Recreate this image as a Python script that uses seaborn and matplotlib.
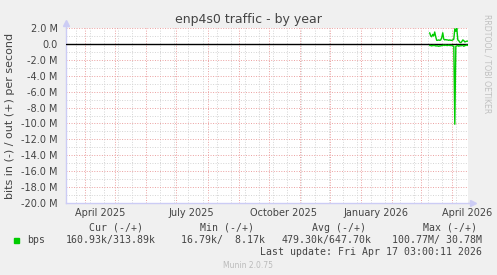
import numpy as np
import pandas as pd
import matplotlib
matplotlib.use("Agg")
import matplotlib.pyplot as plt
import matplotlib.dates as mdates
from matplotlib.ticker import MultipleLocator, FuncFormatter, NullFormatter, FixedLocator
import seaborn as sns

# ---------------- data ----------------
title = "enp4s0 traffic - by year"
ylabel = "bits in (-) / out (+) per second"
series_start = "2026-03-10"
out_mbps = [1.4, 1.0, 0.9, 1.2, 1.0, 1.5, 0.9, 0.45, 0.45, 0.5,
            0.45, 0.5, 0.8, 1.4, 0.6, 0.5, 0.55, 0.5, 0.5, 0.45,
            0.5, 0.45, 0.45, 0.5, 0.6, 1.9, 1.6, 1.95, 0.5, 0.4,
            0.2, 0.15, 0.3, 0.5, 0.4, 0.25, 0.3, 0.35, 0.35]
in_mbps = [0.2, 0.2, 0.25, 0.2, 0.2, 0.2, 0.25, 0.25, 0.25, 0.3,
           0.25, 0.25, 0.2, 0.2, 0.15, 0.2, 0.15, 0.2, 0.2, 0.15,
           0.2, 0.2, 0.2, 0.25, 0.3, 10.1, 0.3, 0.25, 0.2, 0.3,
           0.2, 0.25, 0.2, 0.2, 0.3, 0.2, 0.2, 0.15, 0.2]
x_end = "2026-04-17 03:00:11"
span_days = 400
x_labels = ["April 2025", "July 2025", "October 2025", "January 2026", "April 2026"]
x_label_dates = ["2025-04-16", "2025-07-16", "2025-10-16", "2026-01-16", "2026-04-16"]
minor_grid_start = "2025-03-23"
legend_name = "bps"
legend_heads = ["Cur (-/+)", "Min (-/+)", "Avg (-/+)", "Max (-/+)"]
legend_vals = ["160.93k/313.89k", "16.79k/  8.17k", "479.30k/647.70k", "100.77M/ 30.78M"]
last_update = "Last update: Fri Apr 17 03:00:11 2026"
footer = "Munin 2.0.75"
side_text = "RRDTOOL / TOBI OETIKER"

# ---------------- style ----------------
sns.set_style("white")
plt.rcParams['font.family'] = ['DejaVu Sans']
GREEN = "#00CC00"
BG = "#F0F0F0"
TXT = "#444444"

W, H = 497, 275
fig = plt.figure(figsize=(W / 100, H / 100), dpi=100, facecolor=BG)
L, R, T, B = 66, 468, 28, 203
ax = fig.add_axes([L / W, 1 - B / H, (R - L) / W, (B - T) / H])
ax.set_facecolor("white")

dates = pd.date_range(series_start, periods=len(out_mbps), freq="D")
df = pd.DataFrame({
    "date": list(dates) * 2,
    "value": [v * 1e6 for v in out_mbps] + [-v * 1e6 for v in in_mbps],
    "dir": ["out"] * len(out_mbps) + ["in"] * len(in_mbps),
})

end = pd.Timestamp(x_end)
start = end - pd.Timedelta(days=span_days)
ax.set_xlim(start, end)
ax.set_ylim(-20e6, 2e6)

# grid
ax.xaxis.set_major_locator(mdates.MonthLocator(bymonthday=1))
minor_days = pd.date_range(minor_grid_start, end, freq="14D")
ax.xaxis.set_minor_locator(FixedLocator(mdates.date2num(minor_days)))
ax.xaxis.set_major_formatter(NullFormatter())
ax.xaxis.set_minor_formatter(NullFormatter())
ax.yaxis.set_major_locator(MultipleLocator(2e6))
ax.yaxis.set_minor_locator(MultipleLocator(1e6))
ax.yaxis.set_major_formatter(FuncFormatter(lambda v, p: "0.0" if abs(v) < 1 else f"{v/1e6:.1f} M"))

dot = (0, (1, 1.6))
ax.grid(which="minor", color="#D4D4D4", linestyle=dot, linewidth=0.7)
ax.grid(which="major", color="#EBA0A0", linestyle=dot, linewidth=0.7)
ax.set_axisbelow(True)

ax.tick_params(axis="y", which="major", length=2, width=0.7, color="#E0A0A0",
               labelsize=7, labelcolor=TXT, pad=4)
ax.tick_params(axis="y", which="minor", length=0)
ax.tick_params(axis="x", which="major", length=2, width=0.7, color="#E0A0A0")
ax.tick_params(axis="x", which="minor", length=0)

for s in ["top", "right"]:
    ax.spines[s].set_visible(False)
for s in ["left", "bottom"]:
    ax.spines[s].set_color("#CCCCF5")
    ax.spines[s].set_linewidth(1.0)

# zero line
ax.axhline(0, color="black", linewidth=1.0, zorder=3)

sns.lineplot(data=df, x="date", y="value", units="dir", estimator=None,
             color=GREEN, linewidth=1.0, ax=ax, legend=False, zorder=4)
ax.set_xlabel("")
ax.set_ylabel("")

# axis arrows
ax.plot([0, 0], [1.0, 1.03], transform=ax.transAxes, color="#CCCCF5", lw=1.0, clip_on=False)
ax.plot([0], [1.03], marker="^", markersize=5, color="#CCCCF5", transform=ax.transAxes, clip_on=False)
ax.plot([1.0, 1.01], [0, 0], transform=ax.transAxes, color="#CCCCF5", lw=1.0, clip_on=False)
ax.plot([1.012], [0], marker=">", markersize=5, color="#CCCCF5", transform=ax.transAxes, clip_on=False)

# x labels at month centers
for lab, d in zip(x_labels, x_label_dates):
    ax.text(pd.Timestamp(d), -0.03, lab, transform=ax.get_xaxis_transform(),
            ha="center", va="top", fontsize=7, color=TXT)

# texts
def fx(px):
    return px / W
def fy(py):
    return 1 - py / H

fig.text(fx(248), fy(23), title, ha="center", va="baseline", fontsize=9, color=TXT)
fig.text(fx(10), fy(115.5), ylabel, rotation=90, ha="center", va="center", fontsize=8, color=TXT)
fig.text(fx(487), fy(14), side_text, rotation=270, ha="center", va="top", fontsize=5.6, color="#C0C0C0")

mono = "DejaVu Sans Mono"
head_x = [89, 200, 312, 423]
val_x = [66, 181, 282, 392]
for hx, h in zip(head_x, legend_heads):
    fig.text(fx(hx), fy(228), h, ha="left", va="center", fontsize=7.1, family=mono, color=TXT)
for vx, v in zip(val_x, legend_vals):
    fig.text(fx(vx), fy(240), v, ha="left", va="center", fontsize=7.1, family=mono, color=TXT)
fig.patches.append(matplotlib.patches.Rectangle((fx(14), fy(242.5)), 5 / W, 5 / H,
                                                transform=fig.transFigure, color=GREEN))
fig.text(fx(27), fy(240), legend_name, ha="left", va="center", fontsize=7.1, family=mono, color=TXT)
fig.text(fx(482), fy(252), last_update, ha="right", va="center", fontsize=7.1, family=mono, color=TXT)
fig.text(fx(248), fy(265), footer, ha="center", va="center", fontsize=5.5, color="#BBBBBB")

fig.savefig("out.png", dpi=100, facecolor=BG)
